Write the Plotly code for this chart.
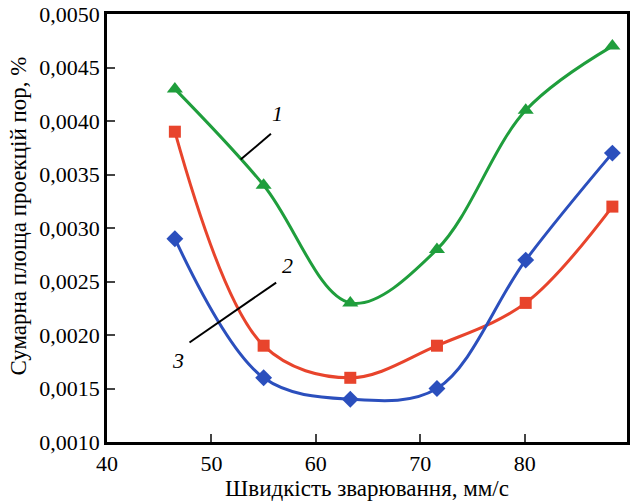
import plotly.graph_objects as go

speed = [46.5, 55.0, 63.3, 71.6, 80.1, 88.4]
curve1 = [0.0043, 0.0034, 0.0023, 0.0028, 0.0041, 0.0047]
curve2 = [0.0039, 0.0019, 0.0016, 0.0019, 0.0023, 0.0032]
curve3 = [0.0029, 0.0016, 0.0014, 0.0015, 0.0027, 0.0037]

ytick_vals = [0.0010, 0.0015, 0.0020, 0.0025, 0.0030, 0.0035, 0.0040, 0.0045, 0.0050]
xtick_vals = [40, 50, 60, 70, 80]

green = "#1f9e3c"
red = "#e8442c"
blue = "#2b4fbd"

fig = go.Figure()
for ys, col, sym, sz in [(curve1, green, "triangle-up", 14),
                          (curve2, red, "square", 12),
                          (curve3, blue, "diamond", 13)]:
    fig.add_trace(go.Scatter(x=speed, y=ys, mode="lines+markers",
                             line=dict(color=col, width=3, shape="spline", smoothing=1.0),
                             marker=dict(symbol=sym, size=sz, color=col),
                             showlegend=False))

# leader lines for labels
fig.add_trace(go.Scatter(x=[52.8, 55.7], y=[0.00364, 0.00388], mode="lines",
                         line=dict(color="black", width=2), showlegend=False))
fig.add_trace(go.Scatter(x=[47.9, 56.2], y=[0.00193, 0.00249], mode="lines",
                         line=dict(color="black", width=2), showlegend=False))

for tx, ty, t in [(56.3, 0.00407, "1"), (57.3, 0.00265, "2"), (46.8, 0.00176, "3")]:
    fig.add_annotation(x=tx, y=ty, text="<i>" + t + "</i>", showarrow=False,
                       font=dict(family="Liberation Serif", size=22, color="black"))

# y-axis title (placed as annotation to match reference position)
fig.add_annotation(xref="paper", yref="paper", x=-0.172, y=0.528, textangle=-90,
                   xanchor="center", yanchor="middle",
                   text="Сумарна площа проекцій пор, %", showarrow=False,
                   font=dict(family="Liberation Serif", size=23, color="black"))

fig.update_layout(
    width=632, height=501,
    margin=dict(l=107, r=2, t=12, b=59),
    paper_bgcolor="white", plot_bgcolor="white",
    separators=", ",
    font=dict(family="Liberation Serif", size=22, color="black"),
)
fig.update_xaxes(range=[40, 89.8], tickvals=xtick_vals, ticks="inside", ticklen=8, tickwidth=2,
                 showline=True, linecolor="black", linewidth=2.5, mirror=True, showgrid=False,
                 zeroline=False, tickfont=dict(size=22),
                 title=dict(text="Швидкість зварювання, мм/с", font=dict(size=23), standoff=2))
fig.update_yaxes(range=[0.0010, 0.0050], tickvals=ytick_vals, tickformat=".4f", ticks="inside",
                 ticklen=8, tickwidth=2, showline=True, linecolor="black", linewidth=2.5,
                 mirror=True, showgrid=False, zeroline=False, tickfont=dict(size=22),
                 ticklabeloverflow="allow")

fig.write_html("out.html", config={"displayModeBar": False},
               post_script="document.body.style.margin='0';document.body.style.padding='0';")
